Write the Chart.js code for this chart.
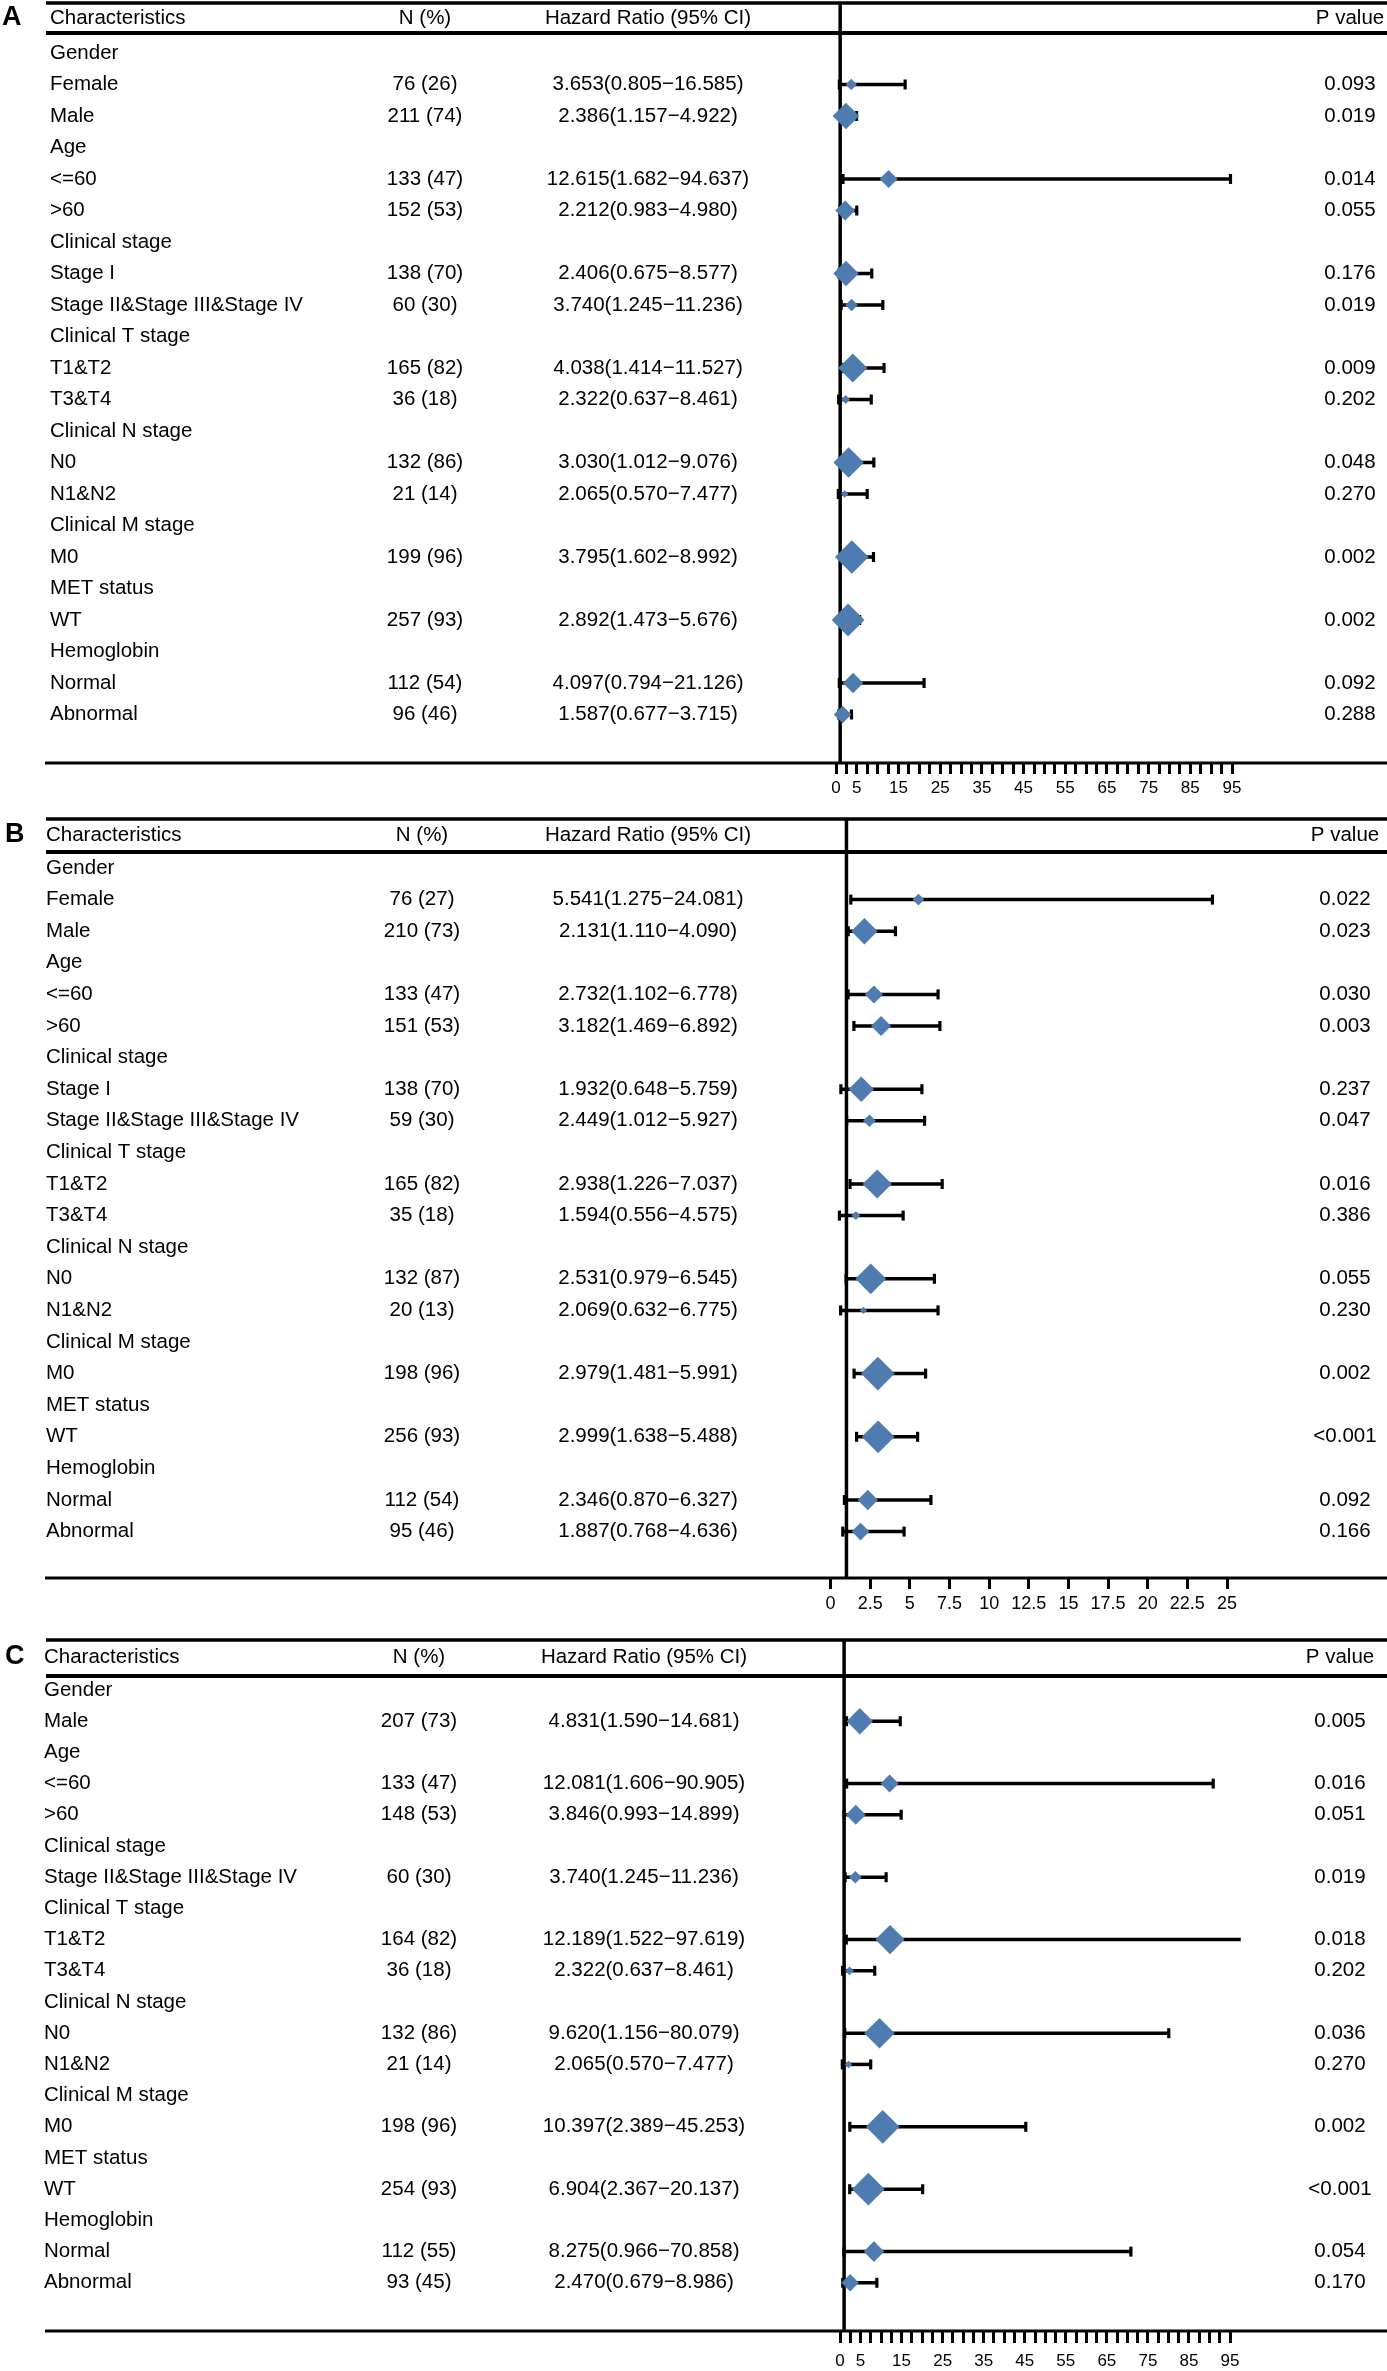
<!DOCTYPE html>
<html>
<head>
<meta charset="utf-8" />
<title>Forest plots A-C</title>
<script src="https://cdn.jsdelivr.net/npm/chart.js@4.4.0/dist/chart.umd.min.js"></script>
<style>
  html, body { margin: 0; padding: 0; background: #fff; }
  canvas { display: block; }
</style>
</head>
<body>
<canvas id="panel-a" width="1387" height="812"></canvas>
<canvas id="panel-b" width="1387" height="818"></canvas>
<canvas id="panel-c" width="1387" height="741"></canvas>
<script>
// ---- data: panel A ----
var labelsA = ['Gender','Female','Male','Age','<=60','>60','Clinical stage','Stage I','Stage II&Stage III&Stage IV',
  'Clinical T stage','T1&T2','T3&T4','Clinical N stage','N0','N1&N2','Clinical M stage','M0','MET status','WT',
  'Hemoglobin','Normal','Abnormal'];
var nA    = [null,76,211,null,133,152,null,138,60,null,165,36,null,132,21,null,199,null,257,null,112,96];
var pctA  = [null,26,74,null,47,53,null,70,30,null,82,18,null,86,14,null,96,null,93,null,54,46];
var hrA   = [null,3.653,2.386,null,12.615,2.212,null,2.406,3.740,null,4.038,2.322,null,3.030,2.065,null,3.795,null,2.892,null,4.097,1.587];
var lowA  = [null,0.805,1.157,null,1.682,0.983,null,0.675,1.245,null,1.414,0.637,null,1.012,0.570,null,1.602,null,1.473,null,0.794,0.677];
var highA = [null,16.585,4.922,null,94.637,4.980,null,8.577,11.236,null,11.527,8.461,null,9.076,7.477,null,8.992,null,5.676,null,21.126,3.715];
var pA    = ['','0.093','0.019','','0.014','0.055','','0.176','0.019','','0.009','0.202','','0.048','0.270','','0.002','','0.002','','0.092','0.288'];

// ---- data: panel B ----
var labelsB = labelsA;
var nB    = [null,76,210,null,133,151,null,138,59,null,165,35,null,132,20,null,198,null,256,null,112,95];
var pctB  = [null,27,73,null,47,53,null,70,30,null,82,18,null,87,13,null,96,null,93,null,54,46];
var hrB   = [null,5.541,2.131,null,2.732,3.182,null,1.932,2.449,null,2.938,1.594,null,2.531,2.069,null,2.979,null,2.999,null,2.346,1.887];
var lowB  = [null,1.275,1.110,null,1.102,1.469,null,0.648,1.012,null,1.226,0.556,null,0.979,0.632,null,1.481,null,1.638,null,0.870,0.768];
var highB = [null,24.081,4.090,null,6.778,6.892,null,5.759,5.927,null,7.037,4.575,null,6.545,6.775,null,5.991,null,5.488,null,6.327,4.636];
var pB    = ['','0.022','0.023','','0.030','0.003','','0.237','0.047','','0.016','0.386','','0.055','0.230','','0.002','','<0.001','','0.092','0.166'];

// ---- data: panel C ----
var labelsC = ['Gender','Male','Age','<=60','>60','Clinical stage','Stage II&Stage III&Stage IV',
  'Clinical T stage','T1&T2','T3&T4','Clinical N stage','N0','N1&N2','Clinical M stage','M0','MET status','WT',
  'Hemoglobin','Normal','Abnormal'];
var nC    = [null,207,null,133,148,null,60,null,164,36,null,132,21,null,198,null,254,null,112,93];
var pctC  = [null,73,null,47,53,null,30,null,82,18,null,86,14,null,96,null,93,null,55,45];
var hrC   = [null,4.831,null,12.081,3.846,null,3.740,null,12.189,2.322,null,9.620,2.065,null,10.397,null,6.904,null,8.275,2.470];
var lowC  = [null,1.590,null,1.606,0.993,null,1.245,null,1.522,0.637,null,1.156,0.570,null,2.389,null,2.367,null,0.966,0.679];
var highC = [null,14.681,null,90.905,14.899,null,11.236,null,97.619,8.461,null,80.079,7.477,null,45.253,null,20.137,null,70.858,8.986];
var pC    = ['','0.005','','0.016','0.051','','0.019','','0.018','0.202','','0.036','0.270','','0.002','','<0.001','','0.054','0.170'];

// ---- x axis ticks ----
var ticksWide  = [0,2.5,5,7.5,10,12.5,15,17.5,20,22.5,25,27.5,30,32.5,35,37.5,40,42.5,45,47.5,50,52.5,55,57.5,
  60,62.5,65,67.5,70,72.5,75,77.5,80,82.5,85,87.5,90,92.5,95];
var labelsWide = [0,5,15,25,35,45,55,65,75,85,95];
var ticksNarrow  = [0,2.5,5,7.5,10,12.5,15,17.5,20,22.5,25];
var labelsNarrow = ticksNarrow;

var headerTexts = ['Characteristics','N (%)','Hazard Ratio (95% CI)','P value'];

var FONT = '"Liberation Sans", Arial, Helvetica, sans-serif';
var DIAMOND = '#4f7cb0';

// page geometry per panel (pixels inside each canvas)
var layoutA = {letter:'A', letterX:2, height:812, top:3, headY:18, headLine:33, row0:53, step:31.5, axis:763,
  x0:836, xEnd:1232, xMax:95, labelX:50, nX:425, hrX:648, pX:1350, tickSize:17, tickPad:4, tickLen:11};
var layoutB = {letter:'B', letterX:5, height:818, top:7, headY:23, headLine:40, row0:56, step:31.6, axis:766,
  x0:830.6, xEnd:1227, xMax:25, labelX:46, nX:422, hrX:648, pX:1345, tickSize:18, tickPad:4, tickLen:11};
var layoutC = {letter:'C', letterX:5, height:741, top:10, headY:27, headLine:46, row0:60, step:31.2, axis:701,
  x0:840, xEnd:1230, xMax:95, labelX:44, nX:419, hrX:644, pX:1340, tickSize:17, tickPad:8, tickLen:12};

function fmt(v) { return v.toFixed(3); }

function drawPanel(id, rows, L, xTicks, xLabels) {
    var yMin = (L.top - L.row0) / L.step;
    var yMax = (L.axis - L.row0) / L.step;

    var diamonds = [];
    var datasets = [];
    for (var i = 0; i < rows.labels.length; i++) {
        if (rows.hr[i] == null) continue;
        diamonds.push({x: rows.hr[i], y: i, pct: rows.pct[i]});
        // confidence interval with end caps
        datasets.push({
            data: [{x: rows.low[i], y: i}, {x: rows.high[i], y: i}],
            showLine: true,
            borderColor: '#000',
            borderWidth: 3.5,
            pointStyle: 'line',
            rotation: 90,
            pointRadius: 5,
            pointBorderWidth: 3.2,
            pointBorderColor: '#000',
            clip: false,
            order: 1
        });
    }
    datasets.unshift({
        data: diamonds,
        pointStyle: 'rectRot',
        pointRadius: function(c) { return c.raw ? 1.5 + 0.16 * c.raw.pct : 0; },
        backgroundColor: DIAMOND,
        pointBackgroundColor: DIAMOND,
        borderWidth: 0,
        pointBorderWidth: 0,
        clip: false,
        order: 0
    });
    // reference line at HR = 1
    datasets.push({
        data: [{x: 1, y: yMin}, {x: 1, y: yMax}],
        showLine: true,
        borderColor: '#000',
        borderWidth: 3.5,
        pointRadius: 0,
        clip: false,
        order: 2
    });

    var tablePlugin = {
        id: 'table',
        afterDraw: function(chart) {
            var ctx = chart.ctx;
            var ys = chart.scales.y;
            var area = chart.chartArea;
            ctx.save();
            ctx.strokeStyle = '#000';
            ctx.lineCap = 'butt';

            ctx.lineWidth = 3.5;
            ctx.beginPath(); ctx.moveTo(46, area.top); ctx.lineTo(1387, area.top); ctx.stroke();
            ctx.lineWidth = 4;
            ctx.beginPath(); ctx.moveTo(46, L.headLine); ctx.lineTo(1387, L.headLine); ctx.stroke();
            ctx.lineWidth = 3.2;
            ctx.beginPath(); ctx.moveTo(45, area.bottom); ctx.lineTo(1387, area.bottom); ctx.stroke();

            ctx.fillStyle = '#000';
            ctx.textBaseline = 'middle';
            ctx.font = 'bold 27px ' + FONT;
            ctx.textAlign = 'left';
            ctx.fillText(L.letter, L.letterX, L.headY);

            ctx.font = '20.5px ' + FONT;
            ctx.fillText(headerTexts[0], L.labelX, L.headY);
            ctx.textAlign = 'center';
            ctx.fillText(headerTexts[1], L.nX, L.headY);
            ctx.fillText(headerTexts[2], L.hrX, L.headY);
            ctx.fillText(headerTexts[3], L.pX, L.headY);

            for (var i = 0; i < rows.labels.length; i++) {
                var y = ys.getPixelForValue(i);
                ctx.textAlign = 'left';
                ctx.fillText(rows.labels[i], L.labelX, y);
                if (rows.hr[i] == null) continue;
                ctx.textAlign = 'center';
                ctx.fillText(rows.n[i] + ' (' + rows.pct[i] + ')', L.nX, y);
                ctx.fillText(fmt(rows.hr[i]) + '(' + fmt(rows.low[i]) + '\u2212' + fmt(rows.high[i]) + ')', L.hrX, y);
                ctx.fillText(rows.p[i], L.pX, y);
            }
            ctx.restore();
        }
    };

    new Chart(document.getElementById(id), {
        type: 'scatter',
        data: {datasets: datasets},
        options: {
            responsive: false,
            animation: false,
            devicePixelRatio: 1,
            events: [],
            layout: {autoPadding: false, padding: {top: L.top, left: L.x0, right: 1387 - L.xEnd, bottom: 0}},
            plugins: {legend: {display: false}, tooltip: {enabled: false}},
            scales: {
                x: {
                    type: 'linear',
                    position: 'bottom',
                    min: 0,
                    max: L.xMax,
                    afterBuildTicks: function(s) {
                        s.ticks = xTicks.map(function(v) { return {value: v}; });
                    },
                    afterFit: function(s) { s.height = L.height - L.axis; },
                    grid: {drawOnChartArea: false, drawTicks: true, tickLength: L.tickLen, lineWidth: 3, color: '#000'},
                    border: {display: false},
                    ticks: {
                        autoSkip: false,
                        maxRotation: 0,
                        minRotation: 0,
                        padding: L.tickPad,
                        color: '#000',
                        font: {family: FONT, size: L.tickSize},
                        callback: function(v) { return xLabels.indexOf(v) >= 0 ? String(v) : ''; }
                    }
                },
                y: {type: 'linear', display: false, reverse: true, min: yMin, max: yMax}
            }
        },
        plugins: [tablePlugin]
    });
}

drawPanel('panel-a', {labels: labelsA, n: nA, pct: pctA, hr: hrA, low: lowA, high: highA, p: pA}, layoutA, ticksWide, labelsWide);
drawPanel('panel-b', {labels: labelsB, n: nB, pct: pctB, hr: hrB, low: lowB, high: highB, p: pB}, layoutB, ticksNarrow, labelsNarrow);
drawPanel('panel-c', {labels: labelsC, n: nC, pct: pctC, hr: hrC, low: lowC, high: highC, p: pC}, layoutC, ticksWide, labelsWide);
</script>
</body>
</html>
